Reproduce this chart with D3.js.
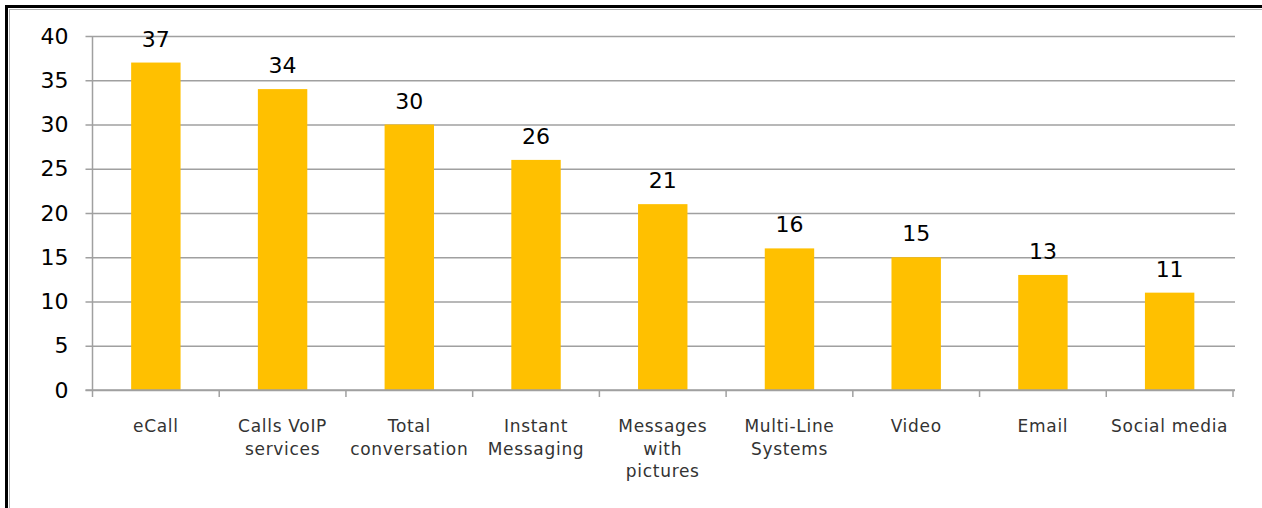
<!DOCTYPE html>
<html>
<head>
<meta charset="utf-8">
<script src="https://cdn.jsdelivr.net/npm/d3@7"></script>
<style>
  body { margin: 0; background: #fff; }
  svg { display: block; }
  text { font-family: "DejaVu Sans", Verdana, sans-serif; }
</style>
</head>
<body>
<svg id="chart" width="1262" height="508"></svg>
<script>
// chart data
var categories = [
  ["eCall"],
  ["Calls VoIP", "services"],
  ["Total", "conversation"],
  ["Instant", "Messaging"],
  ["Messages", "with", "pictures"],
  ["Multi-Line", "Systems"],
  ["Video"],
  ["Email"],
  ["Social media"]
];
var values = [37, 34, 30, 26, 21, 16, 15, 13, 11];
var yTicks = [0, 5, 10, 15, 20, 25, 30, 35, 40];

var svg = d3.select("#chart");
var width = +svg.attr("width");
var height = +svg.attr("height");

// plot area, found by eye
var plotLeft = 92.5, plotRight = 1233, plotTop = 36, plotBottom = 390;

// frame round the whole picture
svg.append("rect")
  .attr("x", 6.5).attr("y", 6.5)
  .attr("width", width + 20).attr("height", height + 20)
  .attr("fill", "none")
  .attr("stroke", "#000")
  .attr("stroke-width", 3);
svg.append("rect")
  .attr("x", 9.5).attr("y", 9.5)
  .attr("width", width + 20).attr("height", height + 20)
  .attr("fill", "none")
  .attr("stroke", "#b0b0b0")
  .attr("stroke-width", 1);

var x = d3.scaleBand()
  .domain(d3.range(values.length))
  .range([plotLeft, plotRight])
  .paddingInner(0.61)
  .paddingOuter(0.305);

var xTicks = d3.scaleBand()
  .domain(d3.range(values.length))
  .range([plotLeft, plotRight]);

var y = d3.scaleLinear()
  .domain([0, 40])
  .range([plotBottom, plotTop]);

// gridlines + y axis
var leftAxis = d3.axisLeft(y)
  .tickValues(yTicks)
  .tickSize(-(plotRight - plotLeft + 2))
  .tickPadding(16);
var gy = svg.append("g")
  .attr("transform", "translate(" + plotLeft + ",0)")
  .call(leftAxis);
gy.select(".domain").remove();
gy.selectAll(".tick line")
  .attr("x1", -7)
  .attr("stroke", "#a0a0a0")
  .attr("stroke-width", 1.5);
gy.selectAll(".tick text")
  .attr("x", -24)
  .attr("font-size", 22)
  .attr("fill", "#000")
  .attr("font-family", "DejaVu Sans, sans-serif");

// vertical axis line
svg.append("line")
  .attr("x1", plotLeft).attr("x2", plotLeft)
  .attr("y1", plotTop).attr("y2", plotBottom)
  .attr("stroke", "#a0a0a0")
  .attr("stroke-width", 1.5);

// bars
svg.selectAll("rect.bar")
  .data(values)
  .enter().append("rect")
  .attr("class", "bar")
  .attr("x", function (d, i) { return x(i); })
  .attr("y", function (d) { return y(d); })
  .attr("width", x.bandwidth())
  .attr("height", function (d) { return y(0) - y(d); })
  .attr("fill", "#ffc000");

// x axis line and tick marks between categories
svg.append("line")
  .attr("x1", plotLeft - 7).attr("x2", plotRight + 2)
  .attr("y1", plotBottom).attr("y2", plotBottom)
  .attr("stroke", "#a0a0a0")
  .attr("stroke-width", 1.5);
var boundaries = d3.range(values.length + 1).map(function (i) {
  return i < values.length ? xTicks(i) : plotRight;
});
svg.selectAll("line.xtick")
  .data(boundaries)
  .enter().append("line")
  .attr("class", "xtick")
  .attr("x1", function (d) { return d; })
  .attr("x2", function (d) { return d; })
  .attr("y1", plotBottom)
  .attr("y2", plotBottom + 7)
  .attr("stroke", "#a0a0a0")
  .attr("stroke-width", 1.5);

// value labels
svg.selectAll("text.value")
  .data(values)
  .enter().append("text")
  .attr("class", "value")
  .attr("x", function (d, i) { return x(i) + x.bandwidth() / 2; })
  .attr("y", function (d) { return y(d) - 16; })
  .attr("text-anchor", "middle")
  .attr("font-size", 22)
  .attr("fill", "#000")
  .text(function (d) { return d; });

// category labels, multi-line
var cat = svg.selectAll("text.cat")
  .data(categories)
  .enter().append("text")
  .attr("class", "cat")
  .attr("text-anchor", "middle")
  .attr("font-size", 17)
  .attr("letter-spacing", 0.7)
  .attr("fill", "#333")
  .attr("transform", function (d, i) {
    return "translate(" + (xTicks(i) + xTicks.bandwidth() / 2) + ",432)";
  });
cat.selectAll("tspan")
  .data(function (d) { return d; })
  .enter().append("tspan")
  .attr("x", 0)
  .attr("y", function (d, i) { return i * 22.5; })
  .text(function (d) { return d; });
</script>
</body>
</html>
